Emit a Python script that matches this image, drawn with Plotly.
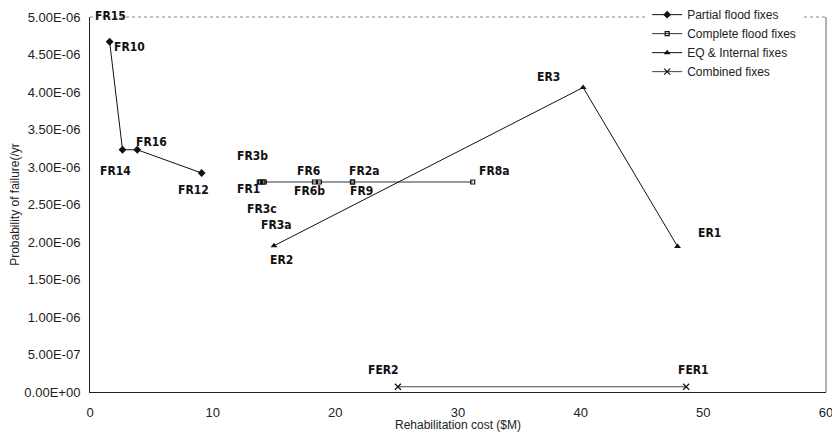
import plotly.graph_objects as go

# ---- data ----
partial_names = ["FR10", "FR14", "FR16", "FR12"]
partial_cost = [1.6, 2.65, 3.85, 9.1]
partial_prob = [4.67e-6, 3.23e-6, 3.23e-6, 2.92e-6]

complete_names = ["FR1", "FR3c", "FR3a", "FR3b", "FR6", "FR6b", "FR2a", "FR9", "FR8a"]
complete_cost = [13.8, 13.9, 14.1, 14.2, 18.3, 18.7, 21.4, 21.4, 31.2]
complete_prob = [2.8e-6, 2.8e-6, 2.8e-6, 2.8e-6, 2.8e-6, 2.8e-6, 2.8e-6, 2.8e-6, 2.8e-6]

eq_names = ["ER2", "ER3", "ER1"]
eq_cost = [15.0, 40.2, 47.9]
eq_prob = [1.95e-6, 4.06e-6, 1.94e-6]

comb_names = ["FER2", "FER1"]
comb_cost = [25.1, 48.6]
comb_prob = [7e-8, 7e-8]

extra_label = "FR15"

series_names = ["Partial flood fixes", "Complete flood fixes", "EQ & Internal fixes", "Combined fixes"]

y_tickvals = [0, 5e-7, 1e-6, 1.5e-6, 2e-6, 2.5e-6, 3e-6, 3.5e-6, 4e-6, 4.5e-6, 5e-6]
y_ticktext = ["0.00E+00", "5.00E-07", "1.00E-06", "1.50E-06", "2.00E-06", "2.50E-06",
              "3.00E-06", "3.50E-06", "4.00E-06", "4.50E-06", "5.00E-06"]
x_tickvals = [0, 10, 20, 30, 40, 50, 60]

# ---- label offsets (pixels: dx right, dy down) ----
label_offsets = {
    "FR10": (20, 5), "FR14": (-7, 21), "FR16": (14, -8), "FR12": (-8, 17),
    "FR1": (-11, 7), "FR3c": (1, 27), "FR3a": (14, 43), "FR3b": (-12, -26),
    "FR6": (-6, -11), "FR6b": (-10, 9), "FR2a": (12, -11), "FR9": (9, 9), "FR8a": (22, -11),
    "ER2": (7, 14), "ER3": (-35, -11), "ER1": (32, -14),
    "FER2": (-14, -17), "FER1": (7, -17),
}

fig = go.Figure()
line_style = dict(color="#111111", width=1)
fig.add_trace(go.Scatter(x=partial_cost, y=partial_prob, mode="lines+markers", name=series_names[0],
                         line=line_style, marker=dict(symbol="diamond", size=6, color="#111111")))
fig.add_trace(go.Scatter(x=complete_cost, y=complete_prob, mode="lines+markers", name=series_names[1],
                         line=dict(color="#333333", width=1),
                         marker=dict(symbol="square-open", size=4, color="#111111", line=dict(width=1.2))))
fig.add_trace(go.Scatter(x=eq_cost, y=eq_prob, mode="lines+markers", name=series_names[2],
                         line=line_style, marker=dict(symbol="triangle-up", size=6, color="#111111")))
fig.add_trace(go.Scatter(x=comb_cost, y=comb_prob, mode="lines+markers", name=series_names[3],
                         line=dict(color="#444444", width=1),
                         marker=dict(symbol="x-thin", size=6, color="#111111", line=dict(width=1.2, color="#111111"))))

label_font = dict(family="DejaVu Sans Condensed, Liberation Sans Narrow, Arial Narrow, sans-serif",
                  size=12, color="#111111", weight="bold")

for names, xs, ys in [(partial_names, partial_cost, partial_prob),
                      (complete_names, complete_cost, complete_prob),
                      (eq_names, eq_cost, eq_prob),
                      (comb_names, comb_cost, comb_prob)]:
    for n, xv, yv in zip(names, xs, ys):
        dx, dy = label_offsets[n]
        fig.add_annotation(x=xv, y=yv, text="<b>%s</b>" % n, showarrow=False,
                           xshift=dx, yshift=-dy, font=label_font)

fig.add_annotation(x=0, y=5e-6, text="<b>%s</b>" % extra_label, showarrow=False,
                   xanchor="left", xshift=3, yshift=1, font=label_font)

# top and right frame (light, scanned look)
fig.add_shape(type="line", xref="paper", yref="paper", x0=0, x1=1, y0=1, y1=1,
              line=dict(color="#888888", width=1, dash="dot"))
fig.add_shape(type="line", xref="paper", yref="paper", x0=1, x1=1, y0=0, y1=1,
              line=dict(color="#666666", width=1))

axis_font = dict(family="Liberation Sans, Arial, sans-serif", size=12, color="#222222")
tick_font = dict(family="Liberation Sans, Arial, sans-serif", size=13, color="#222222")

# page body has an 8px margin, so the figure is offset and margins are compensated
fig.update_layout(
    width=832, height=424,
    margin=dict(l=82, r=14, t=9, b=40, autoexpand=False),
    plot_bgcolor="white", paper_bgcolor="white",
    font=axis_font,
    showlegend=True,
    legend=dict(x=0.757, y=1.045, xanchor="left", yanchor="top", bgcolor="white",
                font=dict(family="Liberation Sans, Arial, sans-serif", size=12, color="#222222"),
                tracegroupgap=0, itemwidth=30),
    xaxis=dict(range=[0, 60], tickvals=x_tickvals, showgrid=False, zeroline=False,
               showline=True, linecolor="#222222", linewidth=1, ticks="",
               ticklabelstandoff=8, ticklabeloverflow="allow", automargin=False, tickfont=tick_font,
               title=dict(text="Rehabilitation cost ($M)", font=axis_font, standoff=1)),
    yaxis=dict(range=[0, 5e-6], tickvals=y_tickvals, ticktext=y_ticktext, showgrid=False,
               zeroline=False, showline=True, linecolor="#222222", linewidth=1, ticks="",
               ticklabelstandoff=6, automargin=False, tickfont=tick_font,
               title=dict(text="Probability of failure(/yr", font=axis_font, standoff=10)),
)

fig.write_html("out.html")
